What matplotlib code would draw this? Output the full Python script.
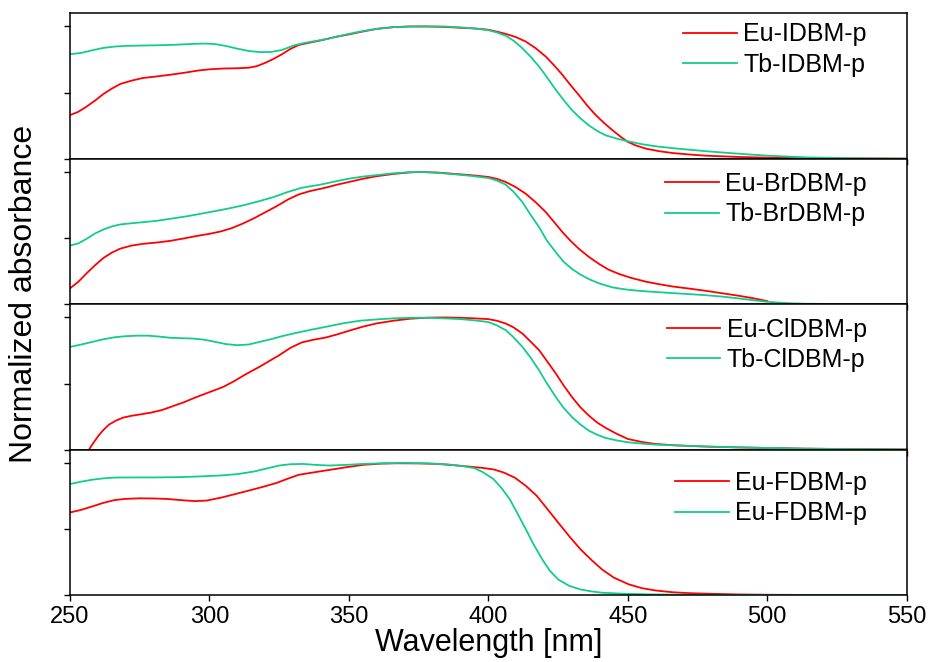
import matplotlib
matplotlib.use("Agg")
import matplotlib.pyplot as plt

plt.rcParams['font.family'] = ['Liberation Sans', 'DejaVu Sans']

RED = '#ff0000'
GREEN = '#12cc8e'

# panel 1: IDBM
eu_i_x = [250, 253, 256, 259, 262, 265, 268, 272, 276, 281, 286, 291, 296, 300, 305, 310, 314, 317,
          320, 323, 326, 329, 332, 336, 340, 345, 350, 355, 360, 366, 372, 378, 384, 390, 395, 400,
          403.2, 406.2, 409.8, 413.4, 417, 420.6, 423.6, 426.6, 429.5, 432.5, 435.5, 438.5, 441.5,
          444.5, 447.5, 450, 452.9, 456.5, 461.2, 466, 472, 478, 490, 500, 520, 550]
eu_i_y = [0.33, 0.355, 0.395, 0.44, 0.49, 0.53, 0.565, 0.59, 0.61, 0.622, 0.635, 0.65, 0.667, 0.676,
          0.682, 0.684, 0.688, 0.70, 0.725, 0.755, 0.79, 0.83, 0.86, 0.878, 0.895, 0.92, 0.94, 0.962,
          0.982, 0.995, 1.0, 1.0, 0.997, 0.99, 0.985, 0.975, 0.96, 0.944, 0.92, 0.886, 0.835, 0.772,
          0.705, 0.633, 0.555, 0.48, 0.40, 0.33, 0.27, 0.215, 0.165, 0.127, 0.10, 0.076, 0.057,
          0.043, 0.032, 0.023, 0.013, 0.008, 0.003, 0.001]
tb_i_x = [250, 254, 258, 262, 266, 270, 276, 282, 288, 294, 298, 302, 306, 310, 314, 318, 322, 326,
          330, 334, 338, 342, 346, 350, 355, 360, 366, 372, 378, 384, 390, 395, 400, 403, 406.2,
          409.2, 412.2, 415.2, 418.2, 421.2, 424.2, 427.1, 430, 433, 436, 439, 442, 446, 450, 455,
          460, 466, 472, 479, 486.4, 493, 500, 514, 532, 550]
tb_i_y = [0.79, 0.80, 0.82, 0.838, 0.848, 0.853, 0.856, 0.858, 0.862, 0.868, 0.871, 0.867, 0.852,
          0.832, 0.815, 0.806, 0.807, 0.822, 0.855, 0.875, 0.89, 0.905, 0.925, 0.944, 0.965, 0.982,
          0.995, 1.0, 1.0, 1.0, 0.993, 0.985, 0.972, 0.955, 0.93, 0.89, 0.835, 0.77, 0.696, 0.61,
          0.52, 0.44, 0.367, 0.305, 0.253, 0.21, 0.177, 0.152, 0.132, 0.11, 0.094, 0.08, 0.068,
          0.055, 0.043, 0.033, 0.023, 0.01, 0.003, 0.0]

# panel 2: BrDBM
eu_br_x = [250, 253, 256, 259, 262, 265, 268, 272, 276, 281, 286, 291, 296, 300, 304, 308, 312, 316,
           320, 324, 328, 332, 336, 341, 346, 350, 355, 360, 366, 372, 376, 382, 388, 394, 400, 403,
           406.2, 409.8, 413.4, 417, 420.6, 423.6, 426.6, 429.5, 432.5, 436, 439.7, 443, 446.9, 451,
           456.5, 461, 466, 472, 478, 484, 490, 495, 500]
eu_br_y = [0.12, 0.17, 0.235, 0.295, 0.35, 0.39, 0.42, 0.443, 0.456, 0.466, 0.479, 0.498, 0.518,
           0.532, 0.55, 0.575, 0.61, 0.65, 0.695, 0.74, 0.79, 0.83, 0.855, 0.878, 0.905, 0.924, 0.948,
           0.968, 0.985, 0.997, 1.0, 0.995, 0.985, 0.975, 0.962, 0.948, 0.924, 0.885, 0.835, 0.77,
           0.696, 0.62, 0.544, 0.478, 0.418, 0.358, 0.304, 0.262, 0.228, 0.2, 0.17, 0.152, 0.134,
           0.118, 0.101, 0.082, 0.063, 0.045, 0.023]
tb_br_x = [250, 253, 256, 259, 262, 265, 268, 272, 276, 281, 286, 292, 300, 306, 312, 318, 323, 328,
           333, 340, 345, 350, 355, 360, 366, 372, 376, 382, 388, 394, 400, 403, 406.2, 409, 412.2,
           415, 418.2, 421, 424.2, 427, 430, 433, 436, 440, 444.5, 449, 454, 460, 466, 472, 478, 484,
           490, 495, 500, 507, 514, 530, 550]
tb_br_y = [0.443, 0.46, 0.495, 0.535, 0.565, 0.588, 0.603, 0.612, 0.62, 0.63, 0.646, 0.665, 0.696,
           0.72, 0.747, 0.78, 0.81, 0.848, 0.88, 0.905, 0.928, 0.949, 0.965, 0.976, 0.99, 0.998, 1.0,
           0.993, 0.982, 0.97, 0.954, 0.935, 0.904, 0.85, 0.772, 0.68, 0.582, 0.48, 0.392, 0.32,
           0.266, 0.224, 0.19, 0.155, 0.127, 0.112, 0.101, 0.092, 0.084, 0.076, 0.068, 0.057, 0.043,
           0.03, 0.018, 0.008, 0.003, 0.001, 0.0]

# panel 3: ClDBM
eu_cl_x = [256.8, 258, 260, 262, 264, 266.5, 269, 272, 275, 279, 283, 287, 291, 295, 300, 305, 309,
           313, 317.8, 321, 325, 329, 333, 337, 341.7, 346, 350, 355, 360, 366, 372, 378, 384, 390,
           395, 400, 403, 406.2, 409, 412.2, 415, 418.2, 421, 424.2, 427, 430, 433, 436, 439, 442,
           446, 450, 455, 460, 466, 472, 480, 490, 500, 513, 526, 550]
eu_cl_y = [0.0, 0.04, 0.1, 0.15, 0.19, 0.22, 0.242, 0.256, 0.266, 0.28, 0.3, 0.33, 0.36, 0.395, 0.435,
           0.475, 0.52, 0.57, 0.625, 0.665, 0.714, 0.77, 0.81, 0.83, 0.848, 0.873, 0.899, 0.93, 0.955,
           0.975, 0.99, 0.998, 1.0, 0.997, 0.993, 0.987, 0.975, 0.954, 0.925, 0.878, 0.82, 0.752,
           0.67, 0.575, 0.485, 0.397, 0.32, 0.258, 0.205, 0.165, 0.12, 0.081, 0.058, 0.043, 0.034,
           0.028, 0.022, 0.017, 0.013, 0.008, 0.005, 0.002]
tb_cl_x = [250, 254, 258, 262, 266, 270, 274, 278, 282, 286, 290, 294, 298, 302, 306, 310, 314, 318,
           322, 326, 330, 336, 342, 348, 354, 360, 366, 372, 378, 384, 390, 395, 400, 403, 406.2,
           409, 412.2, 415, 418.2, 421, 424.2, 427, 430, 433, 436, 439, 442, 446, 450, 455, 460, 470,
           480, 490, 500, 513, 526, 550]
tb_cl_y = [0.777, 0.795, 0.815, 0.835, 0.85, 0.858, 0.862, 0.862, 0.855, 0.846, 0.843, 0.84, 0.832,
           0.815, 0.798, 0.79, 0.795, 0.815, 0.835, 0.858, 0.878, 0.905, 0.93, 0.956, 0.975, 0.985,
           0.993, 0.997, 0.997, 0.993, 0.987, 0.978, 0.965, 0.94, 0.904, 0.85, 0.777, 0.7, 0.6, 0.5,
           0.397, 0.315, 0.246, 0.19, 0.144, 0.113, 0.089, 0.07, 0.056, 0.046, 0.038, 0.03, 0.023,
           0.017, 0.013, 0.008, 0.005, 0.002]

# panel 4: FDBM
eu_f_x = [250, 254, 258, 262, 266, 270, 275, 280, 285, 290, 294.7, 299, 304.5, 309, 314, 319, 324,
          328, 332, 337, 343, 349, 355, 361, 367, 375, 382, 388, 394, 398, 402, 405.5, 409.5, 413.5,
          417.3, 421, 425, 429, 433, 437, 440.7, 445, 450.4, 455, 460, 466, 472, 480, 490, 500, 520,
          550]
eu_f_y = [0.625, 0.645, 0.671, 0.698, 0.719, 0.728, 0.732, 0.731, 0.727, 0.718, 0.711, 0.715, 0.739,
          0.763, 0.79, 0.818, 0.848, 0.88, 0.91, 0.927, 0.947, 0.967, 0.985, 0.994, 0.997, 0.996,
          0.992, 0.982, 0.97, 0.962, 0.95, 0.927, 0.888, 0.825, 0.752, 0.655, 0.549, 0.445, 0.347,
          0.265, 0.195, 0.132, 0.081, 0.053, 0.035, 0.022, 0.015, 0.01, 0.005, 0.003, 0.001, 0.0]
tb_f_x = [250, 254, 258, 262, 266, 272, 280, 288, 296, 304, 310, 316, 321, 325, 329, 333.7, 338, 343,
          349, 355, 362, 370, 378, 386, 391, 395, 398, 401.8, 404.7, 407.6, 410.5, 413.4, 416.3,
          419.3, 422, 425, 429, 433, 437, 441, 450, 460, 480, 550]
tb_f_y = [0.84, 0.858, 0.873, 0.883, 0.889, 0.89, 0.89, 0.892, 0.897, 0.905, 0.915, 0.935, 0.96, 0.98,
          0.99, 0.992, 0.985, 0.98, 0.985, 0.992, 0.997, 1.0, 0.997, 0.987, 0.975, 0.96, 0.93, 0.878,
          0.81, 0.727, 0.615, 0.499, 0.38, 0.271, 0.185, 0.119, 0.07, 0.043, 0.028, 0.018, 0.009,
          0.005, 0.002, 0.0]

panels = [
    (eu_i_x, eu_i_y, 'Eu-IDBM-p', tb_i_x, tb_i_y, 'Tb-IDBM-p'),
    (eu_br_x, eu_br_y, 'Eu-BrDBM-p', tb_br_x, tb_br_y, 'Tb-BrDBM-p'),
    (eu_cl_x, eu_cl_y, 'Eu-ClDBM-p', tb_cl_x, tb_cl_y, 'Tb-ClDBM-p'),
    (eu_f_x, eu_f_y, 'Eu-FDBM-p', tb_f_x, tb_f_y, 'Eu-FDBM-p'),
]
legend_y = [1.075, 1.045, 1.045, 0.99]

fig, axes = plt.subplots(4, 1, figsize=(9.3, 6.62), dpi=100, sharex=True)
fig.subplots_adjust(left=0.0753, right=0.975, bottom=0.101, top=0.980, hspace=0)

for i, (ax, p) in enumerate(zip(axes, panels)):
    ax.plot(p[0], p[1], color=RED, lw=1.3, label=p[2])
    ax.plot(p[3], p[4], color=GREEN, lw=1.3, label=p[5])
    ax.set_xlim(250, 550)
    ax.set_ylim(0, 1.1)
    ax.set_yticks([0, 0.5, 1.0])
    ax.set_yticklabels([])
    ax.set_xticks([250, 300, 350, 400, 450, 500, 550])
    ax.tick_params(direction='out', length=4, width=1, labelsize=17)
    for s in ax.spines.values():
        s.set_linewidth(1.1)
    ax.legend(loc='upper right', bbox_to_anchor=(0.976, legend_y[i]), frameon=False, fontsize=18,
              handlelength=2.15, labelspacing=0.25, borderaxespad=0.4, handletextpad=0.25)

axes[-1].set_xlabel('Wavelength [nm]', fontsize=22, labelpad=0)
fig.text(0.026, 0.556, 'Normalized absorbance', rotation=90, fontsize=23,
         ha='center', va='center')

fig.savefig('out.png', dpi=100)
